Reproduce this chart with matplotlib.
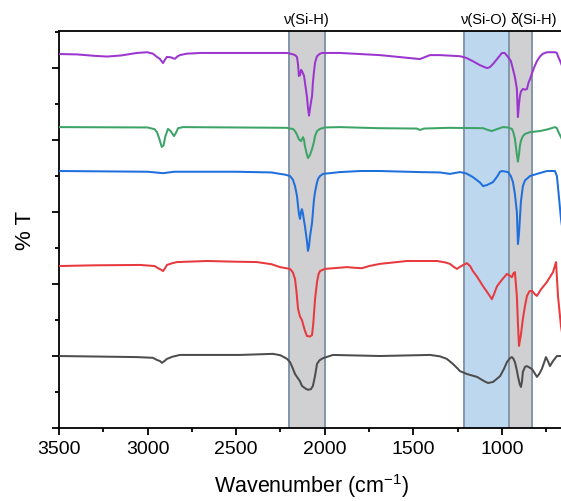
import matplotlib
matplotlib.use("Agg")
import matplotlib.pyplot as plt
from matplotlib.ticker import MultipleLocator, NullFormatter
import matplotlib.transforms as mtransforms

plt.rcParams['font.family'] = ['Liberation Sans', 'DejaVu Sans']
plt.rcParams['mathtext.fontset'] = 'custom'
plt.rcParams['mathtext.rm'] = 'Liberation Sans'
plt.rcParams['mathtext.it'] = 'Liberation Sans:italic'

# ---- data (wavenumber in cm-1, offset %T in arbitrary units) ----
wn_purple = [3500, 3400, 3300, 3229, 3150, 3060, 3003, 2970, 2955, 2947, 2930, 2913, 2900, 2891, 2870,
             2855, 2845, 2830, 2817, 2780, 2700, 2400, 2213, 2185, 2168, 2157, 2151, 2146, 2140, 2134,
             2129, 2123, 2117, 2112, 2101, 2095, 2089, 2084, 2078, 2072, 2067, 2061, 2055, 2044, 2027,
             2016, 1914, 1689, 1463, 1406, 1350, 1237, 1200, 1164, 1124, 1085, 1070, 1051, 1028, 1000,
             985, 966, 950, 938, 927, 916, 910, 904, 899, 893, 882, 870, 859, 850, 842, 831, 820, 803,
             786, 769, 746, 700, 690, 684, 667, 650]
t_purple = [10.39, 10.38, 10.34, 10.32, 10.35, 10.42, 10.44, 10.40, 10.34, 10.31, 10.25, 10.14, 10.25, 10.31, 10.30,
            10.27, 10.26, 10.33, 10.36, 10.40, 10.42, 10.42, 10.42, 10.39, 10.36, 10.31, 10.10, 9.78, 9.80, 9.95,
            9.92, 9.85, 9.78, 9.60, 9.22, 8.90, 8.68, 8.85, 9.05, 9.22, 9.60, 9.90, 10.15, 10.33, 10.40,
            10.42, 10.42, 10.36, 10.25, 10.36, 10.36, 10.33, 10.28, 10.19, 10.08, 10.00, 10.02, 10.11, 10.25, 10.42,
            10.42, 10.31, 10.20, 9.97, 9.75, 9.42, 8.64, 9.00, 9.22, 9.35, 9.42, 9.40, 9.42, 9.60, 9.69, 9.85, 10.00, 10.19,
            10.32, 10.40, 10.44, 10.44, 10.42, 10.33, 10.14, 9.90]

wn_green = [3500, 3000, 2960, 2947, 2935, 2920, 2910, 2900, 2885, 2870, 2851, 2840, 2828, 2800, 2213,
            2200, 2180, 2168, 2157, 2146, 2134, 2123, 2117, 2112, 2101, 2095, 2084, 2072, 2061, 2055,
            2044, 2027, 2000, 1914, 1700, 1480, 1463, 1440, 1300, 1107, 1085, 1057, 1030, 995, 966,
            944, 935, 927, 916, 910, 904, 899, 893, 882, 870, 842, 786, 740, 701, 690, 684, 667, 650]
t_green = [8.36, 8.35, 8.30, 8.22, 8.05, 7.81, 7.85, 8.10, 8.31, 8.25, 8.11, 8.20, 8.33, 8.36, 8.34,
           8.32, 8.31, 8.25, 8.15, 8.02, 7.97, 8.08, 8.00, 7.83, 7.60, 7.50, 7.58, 7.75, 7.95, 8.11,
           8.25, 8.31, 8.35, 8.36, 8.33, 8.32, 8.28, 8.32, 8.34, 8.33, 8.29, 8.25, 8.30, 8.36, 8.35,
           8.31, 8.20, 8.03, 7.60, 7.40, 7.60, 7.83, 7.98, 8.11, 8.17, 8.22, 8.25, 8.30, 8.36, 8.33, 8.25, 8.08, 7.90]

wn_blue = [3500, 3000, 2913, 2850, 2500, 2300, 2253, 2225, 2196, 2180, 2168, 2157, 2151, 2146, 2140,
           2134, 2129, 2123, 2117, 2112, 2101, 2095, 2089, 2084, 2072, 2067, 2061, 2055, 2044, 2038,
           2027, 2010, 1914, 1800, 1689, 1463, 1350, 1294, 1237, 1200, 1164, 1124, 1107, 1085, 1051,
           1028, 1011, 1000, 966, 950, 938, 927, 916, 910, 904, 899, 893, 882, 870, 842, 803, 746,
           701, 690, 684, 667, 650]
t_blue = [7.14, 7.12, 7.08, 7.12, 7.12, 7.10, 7.06, 7.04, 7.00, 6.90, 6.72, 6.45, 6.17, 5.95, 5.81,
          6.00, 6.08, 5.95, 5.75, 5.61, 5.20, 4.92, 5.05, 5.30, 5.70, 6.00, 6.35, 6.56, 6.82, 6.92,
          7.00, 7.06, 7.11, 7.14, 7.14, 7.11, 7.10, 7.06, 7.11, 7.07, 6.97, 6.82, 6.72, 6.75, 6.83,
          6.98, 7.12, 7.14, 7.11, 7.00, 6.83, 6.50, 6.00, 5.11, 5.40, 5.81, 6.30, 6.72, 6.88, 7.00, 7.06, 7.14,
          7.14, 7.00, 6.70, 5.81, 5.20]

wn_red = [3500, 3300, 3043, 2960, 2941, 2925, 2913, 2900, 2891, 2860, 2834, 2665, 2500, 2383, 2300,
          2253, 2196, 2180, 2168, 2160, 2151, 2140, 2129, 2123, 2112, 2101, 2085, 2072, 2065, 2055,
          2044, 2035, 2027, 1999, 1875, 1830, 1790, 1750, 1689, 1536, 1367, 1320, 1294, 1270, 1254,
          1230, 1198, 1180, 1164, 1140, 1107, 1080, 1057, 1045, 1028, 1000, 972, 955, 944, 935, 927,
          916, 910, 904, 893, 882, 870, 859, 845, 831, 815, 803, 780, 746, 712, 695, 684, 667, 650]
t_red = [4.50, 4.52, 4.53, 4.50, 4.44, 4.40, 4.36, 4.45, 4.53, 4.58, 4.61, 4.64, 4.62, 4.61, 4.55,
         4.47, 4.42, 4.32, 4.14, 3.80, 3.31, 3.10, 3.00, 2.89, 2.70, 2.56, 2.54, 2.58, 2.90, 3.58,
         4.05, 4.28, 4.36, 4.42, 4.47, 4.45, 4.44, 4.50, 4.56, 4.64, 4.64, 4.60, 4.56, 4.47, 4.42,
         4.50, 4.58, 4.50, 4.36, 4.20, 3.94, 3.75, 3.58, 3.72, 3.94, 4.12, 4.28, 4.23, 4.19, 4.30, 4.33,
         3.67, 2.90, 2.28, 2.60, 3.03, 3.40, 3.67, 3.80, 3.81, 3.72, 3.67, 3.85, 4.06, 4.33, 4.61, 3.67, 2.83, 2.30]

wn_gray = [3500, 3060, 2970, 2947, 2930, 2919, 2905, 2891, 2860, 2817, 2479, 2292, 2250, 2213, 2196,
           2180, 2168, 2157, 2140, 2129, 2110, 2095, 2078, 2067, 2055, 2044, 2030, 2010, 1954, 1689,
           1406, 1350, 1311, 1277, 1250, 1237, 1198, 1141, 1100, 1079, 1050, 1011, 990, 972, 955,
           944, 935, 927, 916, 910, 900, 893, 887, 882, 870, 859, 845, 831, 815, 803, 790, 775, 760,
           752, 740, 729, 712, 690, 667, 650]
t_gray = [2.00, 1.97, 1.95, 1.89, 1.86, 1.81, 1.86, 1.92, 1.98, 2.03, 2.03, 2.06, 2.02, 1.92, 1.83,
          1.65, 1.50, 1.42, 1.30, 1.17, 1.10, 1.06, 1.08, 1.17, 1.45, 1.78, 1.88, 1.94, 2.03, 2.00,
          2.03, 1.99, 1.92, 1.78, 1.65, 1.58, 1.50, 1.42, 1.30, 1.25, 1.28, 1.44, 1.63, 1.83, 1.94,
          1.97, 1.92, 1.83, 1.60, 1.44, 1.22, 1.14, 1.30, 1.56, 1.70, 1.72, 1.68, 1.64, 1.52, 1.42, 1.50, 1.64, 1.85,
          1.97, 1.85, 1.72, 1.86, 2.00, 2.00, 2.00]

bands = [(2200, 2000), (1215, 961), (961, 830)]
band_labels = ['ν(Si-H)', 'ν(Si-O)', 'δ(Si-H)']
label_pos = [2100, 1100, 822]

x_ticks = [3500, 3000, 2500, 2000, 1500, 1000]

# ---- figure ----
fig = plt.figure(figsize=(5.61, 5.02), dpi=100)
ax = fig.add_axes([59/561, 73/502, 505/561, 397/502])

band_fill = ['#d0cfd1', '#bdd7ee', '#d0cfd1']
for (hi, lo), fc in zip(bands, band_fill):
    ax.axvspan(lo, hi, facecolor=fc, edgecolor='none', zorder=0)
edges = sorted(set([b for pair in bands for b in pair]))
for e in edges:
    ax.axvline(e, color='#8496aa', lw=1.4, zorder=1)

lw = 1.45
ax.plot(wn_gray, t_gray, color='#4d4d4d', lw=lw, zorder=3)
ax.plot(wn_red, t_red, color='#e8393e', lw=lw, zorder=3)
ax.plot(wn_blue, t_blue, color='#1f6fdc', lw=lw, zorder=3)
ax.plot(wn_green, t_green, color='#3da468', lw=lw, zorder=3)
ax.plot(wn_purple, t_purple, color='#9b35cf', lw=lw, zorder=3)

ax.set_xlim(3500, 650)
ax.set_ylim(0, 11.03)
ax.set_xticks(x_ticks)
ax.set_xticklabels([str(v) for v in x_ticks])
ax.xaxis.set_minor_locator(MultipleLocator(250))
ax.yaxis.set_major_locator(MultipleLocator(2))
ax.yaxis.set_minor_locator(MultipleLocator(1))
ax.yaxis.set_major_formatter(NullFormatter())

for s in ['left', 'bottom', 'top']:
    ax.spines[s].set_linewidth(1.3)
ax.spines['right'].set_visible(False)

ax.tick_params(axis='both', which='major', direction='out', length=5, width=1.3,
               labelsize=14, pad=4)
ax.tick_params(axis='both', which='minor', direction='out', length=3, width=1.3)
ax.tick_params(axis='x', which='both', top=False)

ax.set_xlabel('Wavenumber (cm$^{-1}$)', fontsize=15.5)
ax.xaxis.set_label_coords(0.5, -0.108)
ax.set_ylabel('% T', fontsize=16)
ax.yaxis.set_label_coords(-0.046, 0.5)

trans = mtransforms.blended_transform_factory(ax.transData, ax.transAxes)
for txt, xp in zip(band_labels, label_pos):
    ax.text(xp, 1.012, txt, transform=trans, ha='center', va='bottom', fontsize=10.5)

fig.savefig('out.png', dpi=100)
